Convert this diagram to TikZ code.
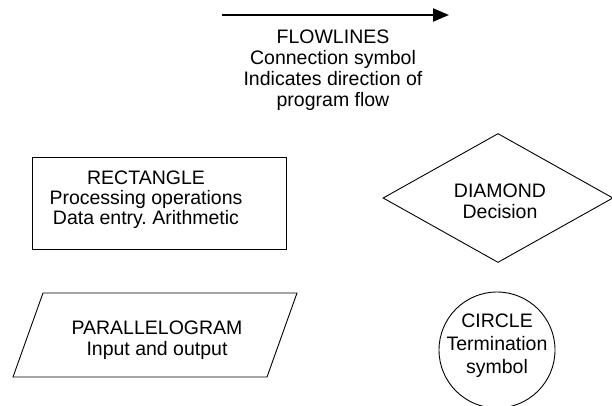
\documentclass[tikz,border=0pt]{standalone}
\usepackage{fontspec}
\setmainfont{Liberation Sans}
\usetikzlibrary{arrows.meta,shapes.geometric}
\frenchspacing
\begin{document}
\begin{tikzpicture}[x=1pt,y=-1pt,
  outline/.style={draw=black,line width=0.9pt},
  lbl/.style={align=center,font=\fontsize{19.5}{21}\selectfont,inner sep=0pt},
  flowline/.style={line width=2pt,-{Triangle[length=16pt,width=13pt]}}]
\useasboundingbox (0,0) rectangle (612,405);

% flowline symbol
\coordinate (fl-start) at (222,15);
\coordinate (fl-end) at (449,15);
\draw[flowline] (fl-start) -- (fl-end);
\node[lbl] (fl-text) at (333,70) {FLOWLINES\\Connection symbol\\Indicates direction of\\program flow};

% process box
\node[outline,rectangle,minimum width=254pt,minimum height=92pt,inner sep=0pt] (rect) at (159,203) {};
\node[lbl,font=\fontsize{19.5}{20}\selectfont] (rect-text) at (146,200) {RECTANGLE\\Processing operations\\Data entry. Arithmetic};

% input/output parallelogram
\coordinate (pg-tl) at (43,293);
\coordinate (pg-tr) at (297,293);
\coordinate (pg-br) at (267,377);
\coordinate (pg-bl) at (13,377);
\draw[outline] (pg-tl) -- (pg-tr) -- (pg-br) -- (pg-bl) -- cycle;
\node[lbl] (pg-text) at (157,340) {PARALLELOGRAM\\Input and output};

% decision diamond
\node[outline,diamond,minimum width=230pt,minimum height=129pt,inner sep=0pt] (dia) at (498,198) {};
\node[lbl] (dia-text) at (500,201) {DIAMOND\\Decision};

% terminator circle
\node[outline,circle,minimum size=116pt,inner sep=0pt] (circ) at (497,350) {};
\node[lbl,font=\fontsize{19.5}{23}\selectfont] (circ-text) at (497,346) {CIRCLE\\Termination\\symbol};
\end{tikzpicture}
\end{document}
